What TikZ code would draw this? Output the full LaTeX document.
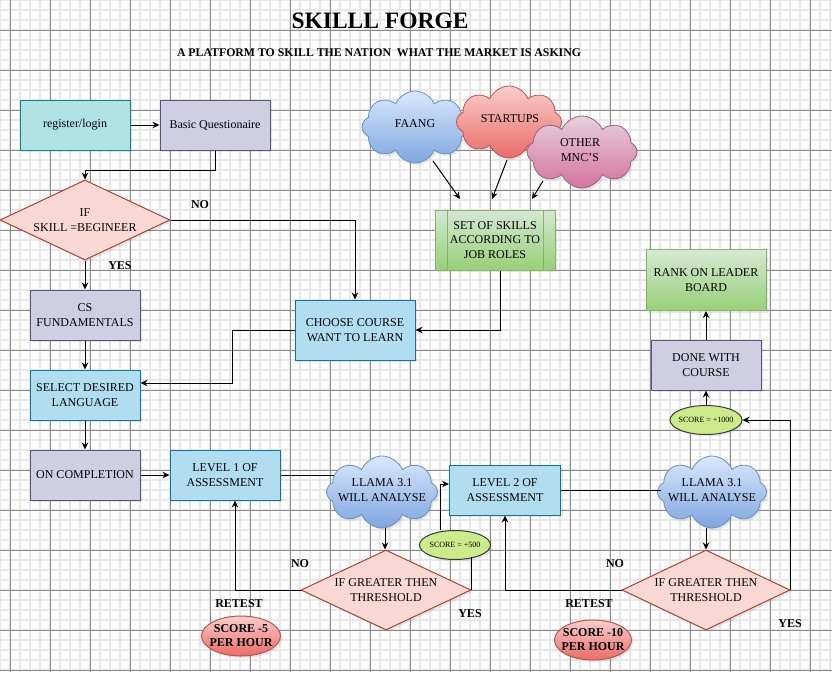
\documentclass[tikz,border=0pt]{standalone}
\usepackage{fontspec}
\setmainfont{Liberation Serif}
\usetikzlibrary{shapes.geometric,shapes.symbols,arrows.meta,shadows}
\definecolor{tealF}{HTML}{B0E3E6}\definecolor{tealD}{HTML}{0E8088}
\definecolor{purF}{HTML}{D0CEE2}\definecolor{purD}{HTML}{56517E}
\definecolor{bluF}{HTML}{B1DDF0}\definecolor{bluD}{HTML}{10739E}
\definecolor{grnT}{HTML}{D5E8D4}\definecolor{grnB}{HTML}{97D077}\definecolor{grnD}{HTML}{82B366}
\definecolor{diaF}{HTML}{FAD9D5}\definecolor{diaD}{HTML}{AE4132}
\definecolor{cbT}{HTML}{DAE8FC}\definecolor{cbB}{HTML}{7EA6E0}\definecolor{cbD}{HTML}{6C8EBF}
\definecolor{crT}{HTML}{F8CECC}\definecolor{crB}{HTML}{EA6B66}\definecolor{crD}{HTML}{B85450}
\definecolor{cpT}{HTML}{E6D0DE}\definecolor{cpB}{HTML}{D5739D}\definecolor{cpD}{HTML}{996185}
\definecolor{limeF}{HTML}{CDEB8B}\definecolor{limeD}{HTML}{36393D}
\definecolor{gridminor}{HTML}{E8E8E8}\definecolor{gridmajor}{HTML}{8A8A8A}
\begin{document}
\begin{tikzpicture}[x=1pt,y=-1pt,
  txt/.style={align=center,font=\fontsize{12}{14.5}\selectfont,inner sep=0pt},
  base/.style={align=center,font=\fontsize{12}{14.5}\selectfont,line width=1pt,inner sep=2pt,
    drop shadow={shadow xshift=2pt,shadow yshift=-2pt,opacity=0.18}},
  box/.style={base,rectangle,draw,minimum width=110pt,minimum height=50pt},
  tealbox/.style={box,fill=tealF,draw=tealD},
  purbox/.style={box,fill=purF,draw=purD},
  blubox/.style={box,fill=bluF,draw=bluD},
  grnbox/.style={box,top color=grnT,bottom color=grnB,draw=grnD},
  dia/.style={base,diamond,draw=diaD,fill=diaF,minimum width=170pt,minimum height=80pt,inner sep=0pt,
    label={[txt]center:#1}},
  cloudbox/.style={base,cloud,cloud puffs=8,cloud puff arc=135,aspect=1.5,inner sep=0pt,line width=0.8pt},
  bluecloud/.style={cloudbox,top color=cbT,bottom color=cbB,draw=cbD},
  redcloud/.style={cloudbox,top color=crT,bottom color=crB,draw=crD},
  pinkcloud/.style={cloudbox,top color=cpT,bottom color=cpB,draw=cpD},
  limeell/.style={base,ellipse,fill=limeF,draw=limeD,inner sep=0pt,minimum width=71pt,minimum height=29pt,
    label={[txt,font=\fontsize{8}{9}\selectfont]center:#1}},
  redell/.style={base,ellipse,top color=crT,bottom color=crB,draw=crD,inner sep=0pt,minimum width=79pt,minimum height=40pt,
    label={[txt,font=\fontsize{12}{14}\selectfont\bfseries]center:#1}},
  lbl/.style={font=\fontsize{12}{13}\selectfont\bfseries,inner sep=0pt},
  arr/.style={-{Stealth[length=7pt,width=6.5pt]},line width=1pt},
  conn/.style={line width=1pt}]
\useasboundingbox (0,0) rectangle (832,672);
\fill[white] (0,0) rectangle (832,672);
% grid
\foreach \x in {0,10,...,830} \draw[gridminor,line width=1.3pt] (\x,0) -- (\x,672);
\foreach \y in {0,10,...,670} \draw[gridminor,line width=1.3pt] (0,\y) -- (832,\y);
\foreach \x in {10,50,...,810} \draw[gridmajor,line width=0.7pt] (\x,0) -- (\x,672);
\foreach \y in {30,70,...,670} \draw[gridmajor,line width=0.7pt] (0,\y) -- (832,\y);
% titles
\node[font=\fontsize{23.5}{28}\selectfont\bfseries] (title) at (380,21) {SKILLL FORGE};
\node[font=\fontsize{11.8}{14}\selectfont\bfseries] (subtitle) at (379,53) {A PLATFORM TO SKILL THE NATION\ \ WHAT THE MARKET IS ASKING};
% nodes
\node[tealbox] (reg) at (75,125) {register/login};
\node[purbox] (basic) at (215,125) {Basic Questionaire};
\node[dia={IF\\SKILL =BEGINEER}] (d1) at (85,220) {};
\node[purbox] (cs) at (85,315) {CS\\FUNDAMENTALS};
\node[blubox] (sel) at (85,395) {SELECT DESIRED\\LANGUAGE};
\node[blubox,minimum width=120pt,minimum height=60pt] (choose) at (355,330) {CHOOSE COURSE\\WANT TO LEARN};
\node[bluecloud,minimum width=106pt,minimum height=72pt] (faang) at (415,127) {};
\node[txt] (faangT) at (415,124) {FAANG};
\node[redcloud,minimum width=105pt,minimum height=72pt] (startups) at (509,122) {};
\node[txt] (startupsT) at (510,119) {STARTUPS};
\node[pinkcloud,minimum width=110pt,minimum height=72pt] (other) at (582,152) {};
\node[txt] (otherT) at (580,150) {OTHER\\MNC'S};
\node[grnbox,minimum width=120pt,minimum height=60pt] (set) at (495,240) {SET OF SKILLS\\ACCORDING TO\\JOB ROLES};
\draw[grnD,line width=1pt] ([xshift=12.5pt]set.north west) -- ([xshift=12.5pt]set.south west);
\draw[grnD,line width=1pt] ([xshift=-12pt]set.north east) -- ([xshift=-12pt]set.south east);
\node[purbox] (oncomp) at (85,475) {ON COMPLETION};
\node[blubox] (lvl1) at (225,475) {LEVEL 1 OF\\ASSESSMENT};
\node[bluecloud,minimum width=111pt,minimum height=72pt] (llama1) at (382,492) {};
\node[txt] (llama1T) at (382,490) {LLAMA 3.1\\WILL ANALYSE};
\node[dia={IF GREATER THEN\\THRESHOLD}] (d2) at (386,590) {};
\node[limeell={SCORE = +500}] (sc500) at (455,545) {};
\node[blubox,minimum width=111pt] (lvl2) at (505,490) {LEVEL 2 OF\\ASSESSMENT};
\node[bluecloud,minimum width=109pt,minimum height=72pt] (llama2) at (712,492) {};
\node[txt] (llama2T) at (712,490) {LLAMA 3.1\\WILL ANALYSE};
\node[dia={IF GREATER THEN\\THRESHOLD},minimum width=168pt] (d3) at (706,590) {};
\node[limeell={SCORE = +1000},minimum width=72pt] (sc1000) at (706,420) {};
\node[purbox] (done) at (706,365) {DONE WITH\\COURSE};
\node[grnbox,minimum width=120pt,minimum height=61pt] (rank) at (706,280) {RANK ON LEADER\\BOARD};
\node[redell={SCORE -5\\PER HOUR}] (sc5) at (241,636) {};
\node[redell={SCORE -10\\PER HOUR},minimum width=77pt] (sc10) at (593,640) {};
% labels
\node[lbl] (no1) at (200,205) {NO};
\node[lbl] (yes1) at (120,266) {YES};
\node[lbl] (no2) at (300,564) {NO};
\node[lbl] (yes2) at (470,614) {YES};
\node[lbl] (re1) at (239,604) {RETEST};
\node[lbl] (no3) at (615,564) {NO};
\node[lbl] (re2) at (589,604) {RETEST};
\node[lbl] (yes3) at (790,624) {YES};
% connector helper coordinates
\coordinate (fa1) at (433,161); \coordinate (fa2) at (460,199);
\coordinate (st1) at (507,160); \coordinate (st2) at (492,199);
\coordinate (ot1) at (543,181); \coordinate (ot2) at (532,199);
\coordinate (l1in) at (334,475);
\coordinate (l2in) at (661,490);
% connectors
\draw[arr] (reg.east) -- (basic.west);
\draw[arr] (basic.south) -- ++(0,20) -| (d1.north);
\draw[arr] (d1.south) -- (cs.north);
\draw[arr] (d1.east) -| (choose.north);
\draw[arr] (cs.south) -- (sel.north);
\draw[arr] (choose.west) -- ++(-62,0) |- ([yshift=12pt]sel.east);
\draw[arr] ([xshift=5pt]set.south) |- (choose.east);
\draw[arr] (fa1) -- (fa2);
\draw[arr] (st1) -- (st2);
\draw[arr] (ot1) -- (ot2);
\draw[arr] (sel.south) -- (oncomp.north);
\draw[arr] (oncomp.east) -- (lvl1.west);
\draw[conn] (lvl1.east) -- (l1in);
\draw[arr] ([xshift=3pt]llama1.south) -- ([xshift=-1pt]d2.north);
\draw[arr] (d2.west) -| ([xshift=10pt]lvl1.south);
\draw[conn] (d2.east) -- ++(0,-33);
\draw[arr] ([xshift=-15pt]sc500.north) |- ([yshift=6pt]lvl2.west);
\draw[conn] (lvl2.east) -- (l2in);
\draw[arr] ([xshift=-6pt]llama2.south) -- (d3.north);
\draw[arr] (d3.west) -| (lvl2.south);
\draw[arr] (d3.east) |- (sc1000.east);
\draw[arr] (sc1000.north) -- (done.south);
\draw[arr] (done.north) -- (rank.south);
\end{tikzpicture}
\end{document}
